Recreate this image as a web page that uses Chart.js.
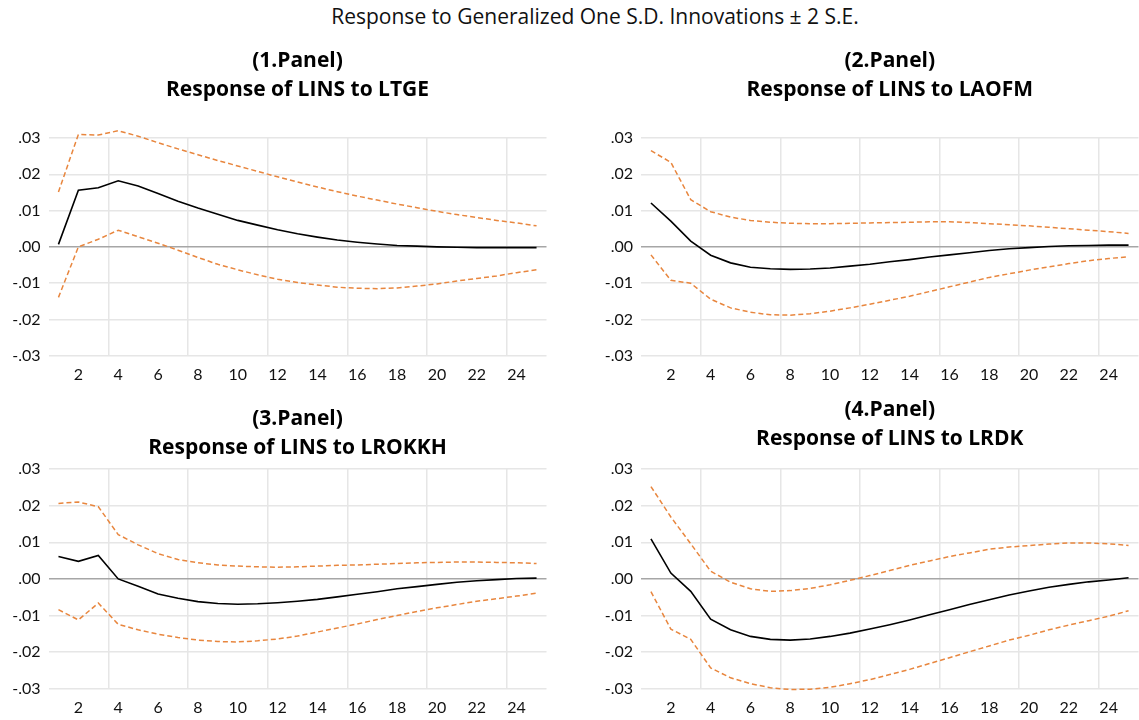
<!DOCTYPE html>
<html>
<head>
<meta charset="utf-8">
<script src="https://cdn.jsdelivr.net/npm/chart.js@4.4.1/dist/chart.umd.min.js"></script>
<style>
  html, body { margin: 0; padding: 0; background: #fff; overflow: hidden; }
  body { width: 1139px; height: 720px; position: relative; font-family: Lato, sans-serif; }
  #heading { position: absolute; left: 0; top: 3px; width: 1190px; text-align: center;
             font-family: 'Open Sans', sans-serif; font-size: 21px; line-height: 27px; color: #111; }
  canvas { position: absolute; }
</style>
</head>
<body>
<div id="heading">Response to Generalized One S.D. Innovations ± 2 S.E.</div>
<canvas id="panel1"></canvas>
<canvas id="panel2"></canvas>
<canvas id="panel3"></canvas>
<canvas id="panel4"></canvas>
<script>
const periods = Array.from({ length: 25 }, (_, i) => i + 1);

// LINS to LTGE
const ltgeResponse = [0.0007, 0.0156, 0.0163, 0.0182, 0.0168, 0.0147, 0.0126, 0.0107, 0.0090, 0.0073,
  0.0060, 0.0047, 0.0036, 0.0027, 0.0019, 0.0013, 0.0008, 0.0004, 0.0002, 0.0000,
  -0.0001, -0.0002, -0.0002, -0.0002, -0.0002];
const ltgeUpper = [0.0151, 0.0310, 0.0308, 0.0320, 0.0305, 0.0287, 0.0270, 0.0254, 0.0238, 0.0223,
  0.0208, 0.0193, 0.0179, 0.0165, 0.0152, 0.0140, 0.0129, 0.0118, 0.0108, 0.0098,
  0.0089, 0.0081, 0.0073, 0.0066, 0.0058];
const ltgeLower = [-0.0139, 0.0000, 0.0021, 0.0046, 0.0028, 0.0010, -0.0009, -0.0029, -0.0048, -0.0063,
  -0.0077, -0.0089, -0.0098, -0.0105, -0.0111, -0.0114, -0.0115, -0.0113, -0.0108, -0.0102,
  -0.0094, -0.0087, -0.0080, -0.0071, -0.0063];

// LINS to LAOFM
const laofmResponse = [0.0121, 0.0071, 0.0016, -0.0023, -0.0044, -0.0056, -0.0060, -0.0062, -0.0061, -0.0058,
  -0.0053, -0.0048, -0.0041, -0.0035, -0.0028, -0.0022, -0.0016, -0.0010, -0.0005, -0.0002,
  0.0001, 0.0003, 0.0004, 0.0005, 0.0005];
const laofmUpper = [0.0265, 0.0233, 0.0130, 0.0097, 0.0082, 0.0073, 0.0068, 0.0065, 0.0064, 0.0064,
  0.0065, 0.0066, 0.0067, 0.0068, 0.0069, 0.0069, 0.0067, 0.0064, 0.0061, 0.0058,
  0.0054, 0.0050, 0.0046, 0.0042, 0.0037];
const laofmLower = [-0.0022, -0.0092, -0.0100, -0.0144, -0.0168, -0.0180, -0.0187, -0.0188, -0.0184, -0.0177,
  -0.0168, -0.0158, -0.0147, -0.0136, -0.0123, -0.0110, -0.0097, -0.0084, -0.0074, -0.0064,
  -0.0055, -0.0046, -0.0038, -0.0032, -0.0027];

// LINS to LROKKH
const lrokkhResponse = [0.0061, 0.0048, 0.0064, 0.0000, -0.0020, -0.0041, -0.0053, -0.0062, -0.0067, -0.0069,
  -0.0068, -0.0065, -0.0061, -0.0056, -0.0049, -0.0042, -0.0035, -0.0027, -0.0021, -0.0015,
  -0.0009, -0.0005, -0.0002, 0.0001, 0.0002];
const lrokkhUpper = [0.0206, 0.0210, 0.0197, 0.0121, 0.0093, 0.0069, 0.0053, 0.0044, 0.0038, 0.0035,
  0.0033, 0.0032, 0.0033, 0.0035, 0.0037, 0.0038, 0.0040, 0.0042, 0.0044, 0.0045,
  0.0046, 0.0046, 0.0045, 0.0044, 0.0042];
const lrokkhLower = [-0.0084, -0.0112, -0.0066, -0.0124, -0.0139, -0.0151, -0.0160, -0.0167, -0.0171, -0.0172,
  -0.0169, -0.0164, -0.0156, -0.0145, -0.0134, -0.0123, -0.0111, -0.0100, -0.0089, -0.0079,
  -0.0070, -0.0061, -0.0054, -0.0047, -0.0039];

// LINS to LRDK
const lrdkResponse = [0.0109, 0.0016, -0.0034, -0.0110, -0.0139, -0.0157, -0.0165, -0.0167, -0.0164, -0.0157,
  -0.0148, -0.0137, -0.0125, -0.0112, -0.0098, -0.0084, -0.0070, -0.0057, -0.0044, -0.0033,
  -0.0023, -0.0015, -0.0008, -0.0003, 0.0003];
const lrdkUpper = [0.0252, 0.0169, 0.0096, 0.0021, -0.0009, -0.0027, -0.0034, -0.0032, -0.0026, -0.0016,
  -0.0004, 0.0009, 0.0023, 0.0037, 0.0049, 0.0061, 0.0071, 0.0081, 0.0087, 0.0091,
  0.0095, 0.0098, 0.0098, 0.0096, 0.0091];
const lrdkLower = [-0.0035, -0.0137, -0.0165, -0.0243, -0.0270, -0.0286, -0.0297, -0.0302, -0.0301, -0.0296,
  -0.0286, -0.0275, -0.0261, -0.0247, -0.0231, -0.0215, -0.0199, -0.0183, -0.0167, -0.0154,
  -0.0139, -0.0126, -0.0114, -0.0102, -0.0087];

const panels = [
  { id: 'panel1', heading: ['(1.Panel)', 'Response of LINS to LTGE'],
    response: ltgeResponse, upper: ltgeUpper, lower: ltgeLower },
  { id: 'panel2', heading: ['(2.Panel)', 'Response of LINS to LAOFM'],
    response: laofmResponse, upper: laofmUpper, lower: laofmLower },
  { id: 'panel3', heading: ['(3.Panel)', 'Response of LINS to LROKKH'],
    response: lrokkhResponse, upper: lrokkhUpper, lower: lrokkhLower },
  { id: 'panel4', heading: ['(4.Panel)', 'Response of LINS to LRDK'],
    response: lrdkResponse, upper: lrdkUpper, lower: lrdkLower }
];

// canvas placement and spacing for each panel
const boxes = {
  panel1: { left: 0, top: 42, width: 560, height: 353, axisWidth: 48.5, padRight: 13.5, titleGap: 33 },
  panel2: { left: 600, top: 42, width: 539, height: 353, axisWidth: 41, padRight: 0.5, titleGap: 33 },
  panel3: { left: 0, top: 400, width: 560, height: 328, axisWidth: 48.5, padRight: 13.5, titleGap: 6 },
  panel4: { left: 600, top: 391, width: 539, height: 337, axisWidth: 41, padRight: 0.5, titleGap: 15 }
};

const bandColor = '#E8863E';
const tickFont = { family: 'Lato', size: 16 };

function fmtTick(v) {
  const s = Math.abs(v).toFixed(2).slice(1);
  return (v < -1e-9 ? '-' : '') + s;
}

for (const p of panels) {
  const box = boxes[p.id];
  const el = document.getElementById(p.id);
  el.width = box.width;
  el.height = box.height;
  el.style.left = box.left + 'px';
  el.style.top = box.top + 'px';

  new Chart(el.getContext('2d'), {
    type: 'line',
    data: {
      labels: periods,
      datasets: [
        { data: p.response, borderColor: '#000', borderWidth: 1.6, pointRadius: 0, tension: 0, clip: false },
        { data: p.upper, borderColor: bandColor, borderWidth: 1.5, borderDash: [5, 3], pointRadius: 0, tension: 0, clip: false },
        { data: p.lower, borderColor: bandColor, borderWidth: 1.5, borderDash: [5, 3], pointRadius: 0, tension: 0, clip: false }
      ]
    },
    options: {
      responsive: false,
      animation: false,
      events: [],
      layout: { padding: { left: 0, right: box.padRight, top: 0, bottom: 2 } },
      scales: {
        x: {
          type: 'category',
          offset: true,
          border: { display: false },
          grid: {
            offset: true,
            drawTicks: false,
            lineWidth: 1.5,
            color: ctx => (ctx.index % 4 === 3 && ctx.index < 25) ? '#e6e6e6' : 'rgba(0,0,0,0)'
          },
          ticks: {
            autoSkip: false,
            maxRotation: 0,
            padding: 9,
            color: '#111',
            font: tickFont,
            callback: (value, index) => (index + 1) % 2 === 0 ? String(periods[index]) : ''
          }
        },
        y: {
          min: -0.03,
          max: 0.03,
          border: { display: false },
          afterFit: s => { s.width = box.axisWidth; },
          grid: {
            drawTicks: false,
            lineWidth: 1.5,
            color: ctx => Math.abs(ctx.tick.value) < 1e-9 ? '#a6a6a6' : '#e6e6e6'
          },
          ticks: {
            stepSize: 0.01,
            padding: 8,
            color: '#111',
            font: tickFont,
            callback: v => fmtTick(v)
          }
        }
      },
      plugins: {
        legend: { display: false },
        tooltip: { enabled: false },
        title: {
          display: true,
          fullSize: false,
          text: p.heading,
          color: '#000',
          font: { family: 'Open Sans', size: 21, weight: 'bold', lineHeight: '29.5px' },
          padding: { top: 4, bottom: box.titleGap }
        }
      }
    }
  });
}
</script>
</body>
</html>
